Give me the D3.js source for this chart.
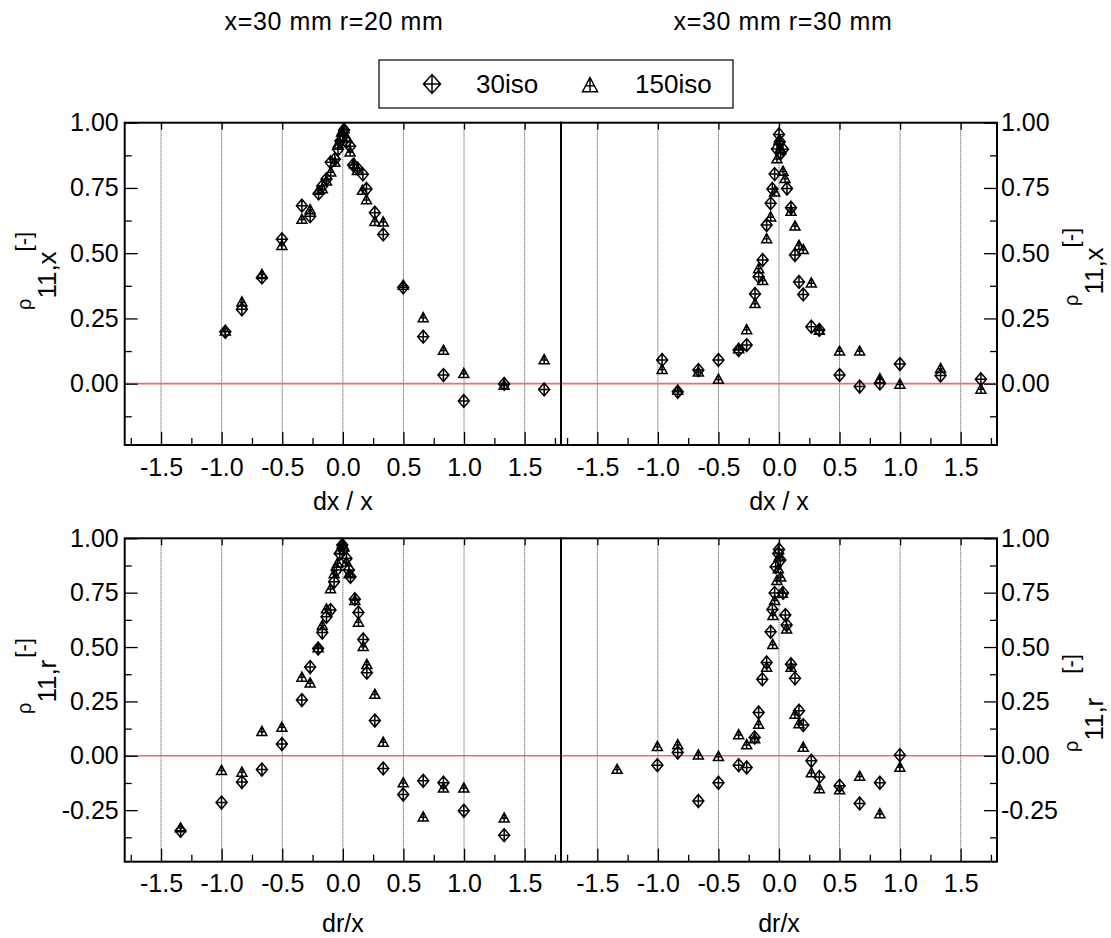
<!DOCTYPE html>
<html>
<head>
<meta charset="utf-8">
<script src="https://cdn.jsdelivr.net/npm/d3@7"></script>
<style>
  body { margin: 0; background: #fff; }
  text { font-family: "Liberation Sans", Arial, sans-serif; fill: #000; }
</style>
</head>
<body>
<svg id="chart" width="1111" height="938"></svg>
<script>
// panel titles / labels
var titles = ["x=30 mm r=20 mm", "x=30 mm r=30 mm"];
var legendNames = ["30iso", "150iso"];
var xMajor = [-1.5, -1.0, -0.5, 0.0, 0.5, 1.0, 1.5];
var xMinor = [-1.75, -1.25, -0.75, -0.25, 0.25, 0.75, 1.25, 1.75];
var yMajorTop = [0.0, 0.25, 0.5, 0.75, 1.0];
var yMajorBottom = [-0.25, 0.0, 0.25, 0.5, 0.75, 1.0];
var yMinorTop = [-0.125, 0.125, 0.375, 0.625, 0.875];
var yMinorBottom = [-0.375, -0.125, 0.125, 0.375, 0.625, 0.875];

// top left: rho_11,x vs dx/x, x=30 r=20
var tl30 = [[-0.97,0.199],[-0.833,0.285],[-0.668,0.407],[-0.503,0.553],[-0.338,0.682],[-0.27,0.642],
  [-0.2,0.729],[-0.17,0.757],[-0.135,0.784],[-0.10,0.848],[-0.066,0.86],[-0.04,0.898],[-0.02,0.93],
  [0.0,0.949],[0.01,0.972],[0.03,0.927],[0.06,0.91],[0.085,0.838],[0.12,0.825],[0.165,0.802],
  [0.195,0.746],[0.264,0.655],[0.333,0.572],[0.498,0.369],[0.663,0.18],[0.83,0.033],[0.998,-0.066],
  [1.331,-0.001],[1.661,-0.022]];
var tl150 = [[-0.97,0.203],[-0.833,0.314],[-0.668,0.42],[-0.503,0.531],[-0.338,0.631],[-0.27,0.668],
  [-0.2,0.742],[-0.17,0.748],[-0.135,0.778],[-0.10,0.812],[-0.066,0.85],[-0.04,0.92],[-0.01,0.966],
  [0.01,0.978],[0.03,0.946],[0.06,0.889],[0.094,0.844],[0.12,0.818],[0.162,0.742],[0.195,0.706],
  [0.264,0.623],[0.333,0.621],[0.498,0.378],[0.663,0.254],[0.83,0.129],[0.998,0.04],[1.331,-0.005],
  [1.661,0.093]];

// top right: rho_11,x vs dx/x, x=30 r=30
var tr30 = [[-0.965,0.091],[-0.836,-0.031],[-0.666,0.052],[-0.5,0.091],[-0.333,0.129],[-0.267,0.148],
  [-0.198,0.344],[-0.168,0.41],[-0.135,0.474],[-0.102,0.608],[-0.069,0.691],[-0.055,0.746],
  [-0.036,0.803],[-0.017,0.899],[0.0,0.955],[0.006,0.927],[0.014,0.883],[0.033,0.898],[0.066,0.748],
  [0.099,0.674],[0.132,0.493],[0.165,0.39],[0.2,0.342],[0.267,0.218],[0.333,0.206],[0.5,0.033],
  [0.666,-0.011],[0.833,0.001],[0.998,0.075],[1.334,0.031],[1.667,0.017]];
var tr150 = [[-0.965,0.056],[-0.836,-0.024],[-0.666,0.046],[-0.5,0.018],[-0.333,0.135],[-0.267,0.208],
  [-0.198,0.308],[-0.168,0.442],[-0.135,0.397],[-0.102,0.557],[-0.069,0.64],[-0.036,0.736],
  [-0.017,0.863],[0.0,0.934],[0.011,0.902],[0.033,0.815],[0.05,0.787],[0.099,0.662],[0.132,0.605],
  [0.165,0.531],[0.2,0.515],[0.267,0.387],[0.333,0.206],[0.5,0.126],[0.666,0.126],[0.833,0.02],
  [0.998,-0.001],[1.334,0.059],[1.667,-0.02]];

// bottom left: rho_11,r vs dr/x, x=30 r=20
var bl30 = [[-1.339,-0.345],[-1.001,-0.215],[-0.833,-0.121],[-0.668,-0.063],[-0.503,0.054],[-0.338,0.256],
  [-0.27,0.408],[-0.204,0.493],[-0.17,0.567],[-0.135,0.639],[-0.102,0.67],[-0.072,0.8],[-0.052,0.854],
  [-0.025,0.93],[-0.005,0.969],[0.003,0.946],[0.03,0.907],[0.05,0.854],[0.063,0.823],[0.099,0.72],
  [0.129,0.659],[0.168,0.535],[0.198,0.382],[0.264,0.162],[0.333,-0.058],[0.498,-0.178],[0.663,-0.115],
  [0.83,-0.124],[0.998,-0.253],[1.331,-0.365]];
var bl150 = [[-1.339,-0.33],[-1.001,-0.066],[-0.833,-0.074],[-0.668,0.113],[-0.503,0.133],[-0.338,0.363],
  [-0.27,0.336],[-0.204,0.498],[-0.17,0.601],[-0.135,0.677],[-0.102,0.769],[-0.072,0.838],[-0.044,0.887],
  [-0.025,0.949],[-0.005,0.976],[0.008,0.961],[0.03,0.892],[0.052,0.838],[0.099,0.716],[0.129,0.616],
  [0.168,0.504],[0.198,0.421],[0.264,0.284],[0.333,0.064],[0.498,-0.123],[0.663,-0.28],[0.83,-0.147],
  [0.998,-0.147],[1.331,-0.285]];

// bottom right: rho_11,r vs dr/x, x=30 r=30
var br30 = [[-1.004,-0.043],[-0.836,0.015],[-0.666,-0.208],[-0.5,-0.124],[-0.333,-0.043],[-0.267,-0.054],
  [-0.201,0.084],[-0.168,0.199],[-0.138,0.352],[-0.102,0.429],[-0.069,0.57],[-0.055,0.673],
  [-0.036,0.749],[-0.028,0.869],[-0.006,0.93],[0.0,0.949],[0.011,0.9],[0.033,0.749],[0.052,0.647],
  [0.063,0.601],[0.099,0.421],[0.132,0.356],[0.165,0.207],[0.2,0.141],[0.267,-0.023],[0.333,-0.097],
  [0.5,-0.138],[0.666,-0.219],[0.833,-0.124],[0.998,0.003]];
var br150 = [[-1.337,-0.061],[-1.004,0.044],[-0.836,0.052],[-0.666,0.005],[-0.5,-0.002],[-0.333,0.098],
  [-0.267,0.052],[-0.201,0.08],[-0.168,0.146],[-0.102,0.409],[-0.052,0.513],[-0.05,0.647],[-0.036,0.716],
  [-0.017,0.808],[-0.006,0.861],[0.0,0.915],[0.014,0.823],[0.028,0.749],[0.063,0.585],[0.099,0.409],
  [0.132,0.192],[0.165,0.149],[0.2,0.041],[0.267,-0.077],[0.333,-0.15],[0.5,-0.155],[0.666,-0.093],
  [0.833,-0.265],[0.998,-0.051]];

var svg = d3.select("svg#chart");

// marker shapes (diamond with cross, triangle with cross)
function diamond(w, h) {
  return `M0,${-h}L${w},0L0,${h}L${-w},0Z M0,${-h}L0,${h} M${-w},0L${w},0`;
}
function triangle(w, h) {
  return `M0,${-h}L${w},${h * 0.9}L${-w},${h * 0.9}Z M0,${-h}L0,${h * 0.9} M${-w * 0.55},${h * 0.1}L${w * 0.55},${h * 0.1}`;
}

var fmt1 = function (d) { return d.toFixed(1); };
var fmt2 = function (d) { return d.toFixed(2); };

var topY = [122.7, 445], bottomY = [538.3, 861.7];
var leftX = [124.7, 561], rightX = [561, 997];

var panels = [
  { xr: leftX, yr: topY, ydom: [-0.235, 1], s30: tl30, s150: tl150, side: "left", major: yMajorTop, minor: yMinorTop, xlab: "dx / x", xlabY: 510 },
  { xr: rightX, yr: topY, ydom: [-0.235, 1], s30: tr30, s150: tr150, side: "right", major: yMajorTop, minor: yMinorTop, xlab: "dx / x", xlabY: 510 },
  { xr: leftX, yr: bottomY, ydom: [-0.487, 1], s30: bl30, s150: bl150, side: "left", major: yMajorBottom, minor: yMinorBottom, xlab: "dr/x", xlabY: 932 },
  { xr: rightX, yr: bottomY, ydom: [-0.487, 1], s30: br30, s150: br150, side: "right", major: yMajorBottom, minor: yMinorBottom, xlab: "dr/x", xlabY: 932 }
];

panels.forEach(function (p) {
  var x = d3.scaleLinear().domain([-1.8, 1.8]).range(p.xr);
  var y = d3.scaleLinear().domain(p.ydom).range([p.yr[1], p.yr[0]]);
  var g = svg.append("g");

  // vertical grid
  g.selectAll("line.grid").data(xMajor).enter().append("line")
    .attr("x1", d => x(d)).attr("x2", d => x(d))
    .attr("y1", p.yr[0]).attr("y2", p.yr[1])
    .attr("stroke", "#444").attr("stroke-width", 1).attr("stroke-dasharray", "1,1");

  // zero line
  g.append("line")
    .attr("x1", p.xr[0]).attr("x2", p.xr[1])
    .attr("y1", y(0)).attr("y2", y(0))
    .attr("stroke", "#f26b6b").attr("stroke-width", 1.6);

  // x axis, ticks pointing inward
  var xa = g.append("g").attr("transform", `translate(0,${p.yr[1]})`)
    .call(d3.axisBottom(x).tickValues(xMajor).tickSize(-13).tickPadding(13).tickFormat(fmt1));
  xa.selectAll("text").style("font-size", "25px");
  g.append("g").attr("transform", `translate(0,${p.yr[1]})`)
    .call(d3.axisBottom(x).tickValues(xMinor).tickSize(-7).tickFormat(""));
  g.append("g").attr("transform", `translate(0,${p.yr[0]})`)
    .call(d3.axisTop(x).tickValues(xMajor).tickSize(-7).tickFormat(""));

  // y axis on the outer side
  var ya;
  if (p.side === "left") {
    ya = g.append("g").attr("transform", `translate(${p.xr[0]},0)`)
      .call(d3.axisLeft(y).tickValues(p.major).tickSize(-13).tickPadding(6).tickFormat(fmt2));
    g.append("g").attr("transform", `translate(${p.xr[0]},0)`)
      .call(d3.axisLeft(y).tickValues(p.minor).tickSize(-7).tickFormat(""));
  } else {
    ya = g.append("g").attr("transform", `translate(${p.xr[1]},0)`)
      .call(d3.axisRight(y).tickValues(p.major).tickSize(-13).tickPadding(4).tickFormat(fmt2));
    g.append("g").attr("transform", `translate(${p.xr[1]},0)`)
      .call(d3.axisRight(y).tickValues(p.minor).tickSize(-7).tickFormat(""));
  }
  ya.selectAll("text").style("font-size", "25px");
  g.selectAll(".domain").remove();
  g.selectAll(".tick line").attr("stroke", "#000").attr("stroke-width", 1.3);

  // frame
  g.append("rect")
    .attr("x", p.xr[0]).attr("y", p.yr[0])
    .attr("width", p.xr[1] - p.xr[0]).attr("height", p.yr[1] - p.yr[0])
    .attr("fill", "none").attr("stroke", "#000").attr("stroke-width", 2);

  // x axis title
  g.append("text")
    .attr("x", (p.xr[0] + p.xr[1]) / 2)
    .attr("y", p.xlabY)
    .attr("text-anchor", "middle").style("font-size", "25px")
    .text(p.xlab);

  // data points
  g.selectAll("path.s150").data(p.s150).enter().append("path")
    .attr("transform", d => `translate(${x(d[0])},${y(d[1])})`)
    .attr("d", triangle(5, 4.8))
    .attr("fill", "none").attr("stroke", "#000").attr("stroke-width", 1.5);
  g.selectAll("path.s30").data(p.s30).enter().append("path")
    .attr("transform", d => `translate(${x(d[0])},${y(d[1])})`)
    .attr("d", diamond(5.5, 6.5))
    .attr("fill", "none").attr("stroke", "#000").attr("stroke-width", 1.5);
});

// panel titles
svg.selectAll("text.title").data(titles).enter().append("text")
  .attr("x", (d, i) => i === 0 ? 334 : 783)
  .attr("y", 30)
  .attr("text-anchor", "middle")
  .style("font-size", "25px").style("letter-spacing", "0.6px")
  .text(d => d);

// legend
var legend = svg.append("g");
legend.append("rect").attr("x", 379).attr("y", 60).attr("width", 354).attr("height", 48)
  .attr("fill", "#fff").attr("stroke", "#000").attr("stroke-width", 1.2);
legend.append("path").attr("transform", "translate(432,84)").attr("d", diamond(8.5, 9.5))
  .attr("fill", "none").attr("stroke", "#000").attr("stroke-width", 1.5);
legend.append("path").attr("transform", "translate(590,85)").attr("d", triangle(7.5, 7.5))
  .attr("fill", "none").attr("stroke", "#000").attr("stroke-width", 1.5);
legend.selectAll("text").data(legendNames).enter().append("text")
  .attr("x", (d, i) => i === 0 ? 476 : 635)
  .attr("y", 93)
  .style("font-size", "26px")
  .text(d => d);

// y axis labels: rho with big subscript and [-]
var yLabels = [
  { x: 31, y: 310, sub: "11,x", gap: 0 },
  { x: 1078, y: 306, sub: "11,x", gap: 0 },
  { x: 31, y: 714, sub: "11,r", gap: 2 },
  { x: 1078, y: 752, sub: "11,r", gap: 24 }
];
yLabels.forEach(function (l) {
  var t = svg.append("text").attr("transform", `translate(${l.x},${l.y}) rotate(-90)`);
  t.append("tspan").style("font-size", "20px").text("\u03c1");
  t.append("tspan").attr("dy", 25).style("font-size", "26px").text(l.sub);
  t.append("tspan").attr("dy", -25).attr("dx", l.gap).style("font-size", "22px").text("[-]");
});
</script>
</body>
</html>
